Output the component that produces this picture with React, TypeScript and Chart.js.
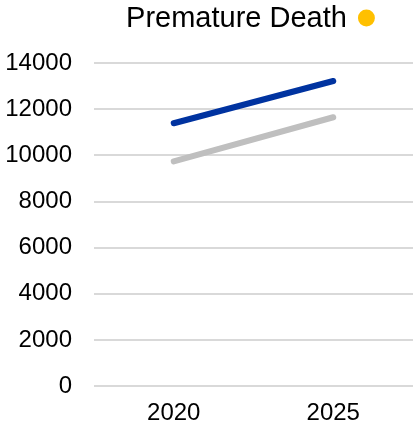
import React, { useEffect, useRef } from "react";
import { Chart, registerables } from "chart.js";

Chart.register(...registerables);

const categories = ["2020", "2025"];
const blueSeries = [11390, 13220];
const graySeries = [9740, 11650];
const yTicks = [0, 2000, 4000, 6000, 8000, 10000, 12000, 14000];
const titleText = "Premature Death";

const titlePlugin = {
  id: "titleWithDot",
  afterDraw(chart: any) {
    const ctx = chart.ctx;
    const area = chart.chartArea;
    ctx.save();
    ctx.font = "29px 'Liberation Sans', Arial, sans-serif";
    ctx.fillStyle = "#000000";
    ctx.textBaseline = "middle";
    ctx.textAlign = "left";
    const tw = ctx.measureText(titleText).width;
    const gap = 11;
    const r = 8.5;
    const total = tw + gap + 2 * r;
    const cx = (area.left + area.right) / 2 - 3;
    const x0 = cx - total / 2;
    const y = 19;
    ctx.fillText(titleText, x0, y);
    ctx.beginPath();
    ctx.fillStyle = "#FFC000";
    ctx.arc(x0 + tw + gap + r, y - 1, r, 0, Math.PI * 2);
    ctx.fill();
    ctx.restore();
  },
};

export default function App() {
  const ref = useRef<HTMLCanvasElement>(null);
  useEffect(() => {
    if (!ref.current) return;
    const chart = new Chart(ref.current, {
      type: "line",
      data: {
        labels: categories,
        datasets: [
          {
            data: blueSeries,
            borderColor: "#0033A0",
            borderWidth: 6,
            borderCapStyle: "round",
            pointRadius: 0,
            fill: false,
          },
          {
            data: graySeries,
            borderColor: "#BFBFBF",
            borderWidth: 6,
            borderCapStyle: "round",
            pointRadius: 0,
            fill: false,
          },
        ],
      },
      options: {
        animation: false,
        responsive: false,
        layout: { padding: { top: 63, right: 0, bottom: -14, left: 0 } },
        plugins: {
          legend: { display: false },
          title: { display: false },
          tooltip: { enabled: false },
        },
        scales: {
          x: {
            offset: true,
            grid: { display: false, drawTicks: false },
            border: { display: false },
            ticks: {
              padding: 13,
              color: "#000000",
              font: { family: "'Liberation Sans', Arial, sans-serif", size: 24 },
            },
          },
          y: {
            min: 0,
            max: 14000,
            afterBuildTicks: (axis: any) => {
              axis.ticks = yTicks.map((v) => ({ value: v }));
            },
            afterFit: (axis: any) => {
              axis.width = 94;
            },
            grid: { color: "#D9D9D9", lineWidth: 2, drawTicks: false },
            border: { display: false },
            ticks: {
              padding: 22,
              color: "#000000",
              font: { family: "'Liberation Sans', Arial, sans-serif", size: 24 },
              callback: (v: any) => String(v),
            },
          },
        },
      },
      plugins: [titlePlugin],
    });
    return () => chart.destroy();
  }, []);
  return (
    <div style={{ position: "absolute", left: 0, top: 0, width: 413, height: 427 }}>
      <canvas ref={ref} width={413} height={427} />
    </div>
  );
}
